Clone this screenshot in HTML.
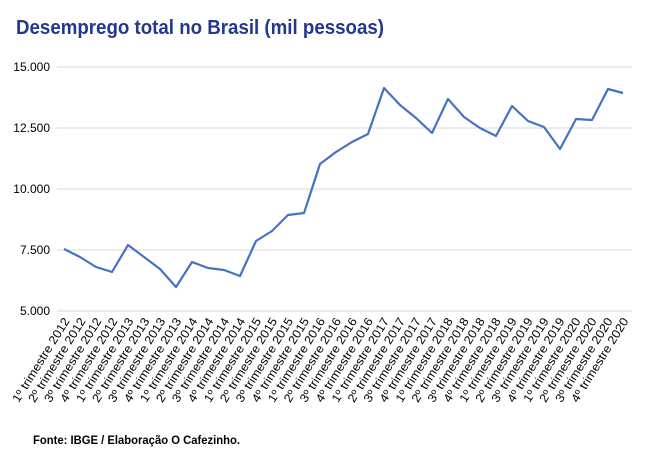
<!DOCTYPE html>
<html><head><meta charset="utf-8"><style>
body{margin:0;background:#fff;}
svg{display:block;font-family:"Liberation Sans",sans-serif;}
</style></head><body>
<svg width="646" height="458" xmlns="http://www.w3.org/2000/svg">
<text x="16" y="34" font-size="20.5" font-weight="bold" fill="#23378f" textLength="368" lengthAdjust="spacingAndGlyphs">Desemprego total no Brasil (mil pessoas)</text>
<g stroke="#d9d9d9" stroke-width="1">
<line x1="57" y1="67" x2="632" y2="67"/>
<line x1="57" y1="128" x2="632" y2="128"/>
<line x1="57" y1="189" x2="632" y2="189"/>
<line x1="57" y1="250" x2="632" y2="250"/>
<line x1="57" y1="311" x2="632" y2="311"/>
</g>
<g font-size="12" fill="#000" text-anchor="end">
<text x="50" y="71">15.000</text>
<text x="50" y="132">12.500</text>
<text x="50" y="193">10.000</text>
<text x="50" y="254">7.500</text>
<text x="50" y="315">5.000</text>
</g>
<polyline fill="none" stroke="#4472c4" stroke-width="2.2" stroke-linejoin="round" points="
64,249 80,257 96,267 112,272 128,245 144,257 160,269 176,287 192,262 208,268 224,270 240,276 256,241 272,231 288,215 304,213 320,164 336,152 352,142 368,134 384,88 400,105 416,118 432,133 448,99 464,117 480,128 496,136 512,106 528,121 544,127 560,149 576,119 592,120 608,89 623,93"/>
<g id="labels" font-size="12" fill="#000" text-anchor="end"></g>
<text x="33" y="444" font-size="12" font-weight="bold" fill="#000" textLength="207" lengthAdjust="spacingAndGlyphs">Fonte: IBGE / Elaboração O Cafezinho.</text>
</svg>
<script>
var g=document.getElementById('labels');var s='';var i=0;
for(var y=2012;y<=2020;y++){for(var q=1;q<=4;q++){var x=64+i*15.97+6;
s+='<text x="'+x+'" y="321" transform="rotate(-58 '+x+' 321)" textLength="97" lengthAdjust="spacingAndGlyphs">'+q+'º trimestre '+y+'</text>';i++;}}
g.innerHTML=s;
</script>
</body></html>
